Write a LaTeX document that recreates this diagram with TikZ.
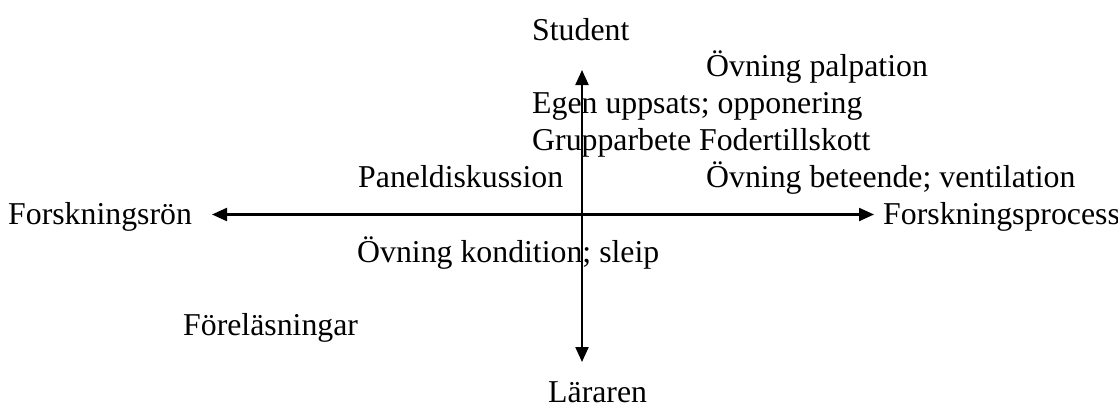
\documentclass[tikz,border=0pt]{standalone}
\usepackage{fontspec}
\setmainfont{Liberation Serif}
\usetikzlibrary{arrows.meta}
\begin{document}
\begin{tikzpicture}[x=1pt,y=-1pt,
  lbl/.style={anchor=base west,inner sep=0pt,font=\fontsize{31.8}{37}\selectfont},
  axis/.style={line width=2.2pt,-{Triangle[length=15pt,width=13pt]}}]
\useasboundingbox (0,0) rectangle (1118,410);
\coordinate (c) at (582,214.5);
\coordinate (top) at (582,70);
\coordinate (bot) at (582,362);
\coordinate (lft) at (212,214.5);
\coordinate (rgt) at (874,214.5);
\draw[axis] (c) -- (top);
\draw[axis] (c) -- (bot);
\draw[axis] (c) -- (lft);
\draw[axis] (c) -- (rgt);
\node[lbl] (student) at (532,40) {Student};
\node[lbl] (lararen) at (548,402) {Läraren};
\node[lbl] (ron) at (8,224) {Forskningsrön};
\node[lbl] (process) at (883,224) {Forskningsprocess};
\node[lbl] (palp) at (706,76) {Övning palpation};
\node[lbl] (egen) at (532,113) {Egen uppsats; opponering};
\node[lbl] (grupp) at (532,150) {Grupparbete Fodertillskott};
\node[lbl] (panel) at (358,187) {Paneldiskussion};
\node[lbl] (beteende) at (706,187) {Övning beteende; ventilation};
\node[lbl] (kondition) at (357,262) {Övning kondition; sleip};
\node[lbl] (forel) at (183,335) {Föreläsningar};
\end{tikzpicture}
\end{document}
